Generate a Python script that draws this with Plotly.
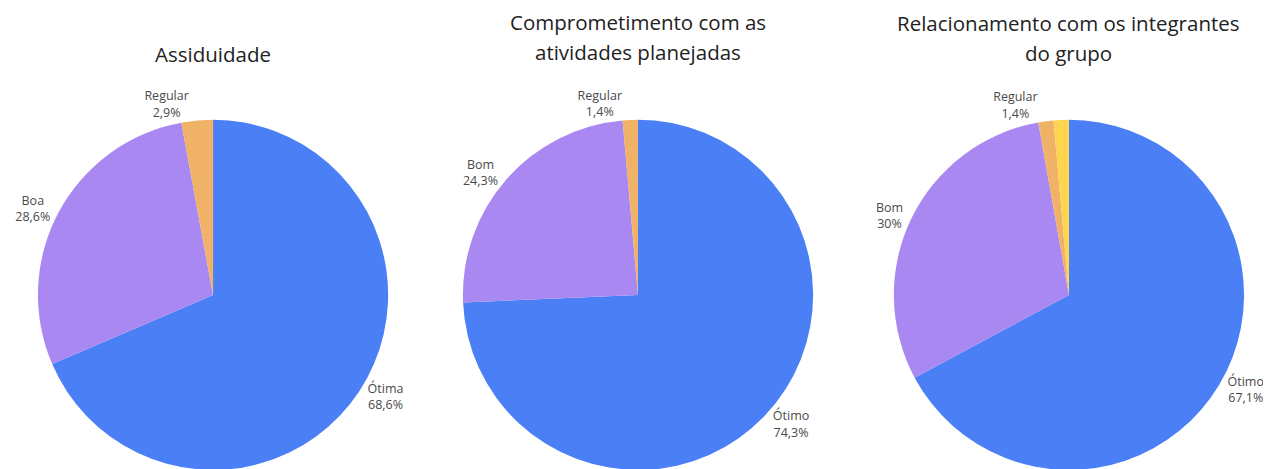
import plotly.graph_objects as go

title_lines = [["Assiduidade"],
               ["Comprometimento com as", "atividades planejadas"],
               ["Relacionamento com os integrantes", "do grupo"]]

labels1 = ["Ótima", "Boa", "Regular"]
values1 = [68.6, 28.6, 2.9]

labels2 = ["Ótimo", "Bom", "Regular"]
values2 = [74.3, 24.3, 1.4]

labels3 = ["Ótimo", "Bom", "Regular", "Ruim"]
values3 = [67.1, 30.0, 1.4, 1.4]
shown3 = [True, True, True, False]

colors = ["#4A7FF5", "#AA88F2", "#F0B266", "#FFD54F"]

# page body has an 8px margin; the pies run past the bottom edge of the view
OFF = 8
W, H = 1271 - OFF, 467
R = 177
centers_x = [211 - OFF, 638 - OFF, 1071 - OFF]


def fmt(v):
    s = f"{v:.1f}"
    if s.endswith(".0"):
        s = s[:-2]
    return s.replace(".", ",") + "%"


def texts(labels, values, shown=None):
    out = []
    for i, (l, v) in enumerate(zip(labels, values)):
        if shown is not None and not shown[i]:
            out.append("")
        else:
            out.append(f"{l}<br>{fmt(v)}")
    return out


fig = go.Figure()
datasets = [(labels1, values1, None), (labels2, values2, None), (labels3, values3, shown3)]
for i, (lab, val, sh) in enumerate(datasets):
    cx = centers_x[i]
    fig.add_trace(go.Pie(
        labels=lab, values=val,
        text=texts(lab, val, sh),
        textinfo="text",
        textposition="outside",
        sort=False, direction="clockwise", rotation=0,
        marker=dict(colors=colors[:len(lab)], line=dict(width=0)),
        textfont=dict(family="Open Sans", size=12.5, color="#4a4a4a"),
        domain=dict(x=[(cx - R) / W, (cx + R) / W], y=[0, 2 * R / H]),
        showlegend=False,
        hoverinfo="label+percent",
    ))

title_ys = [[54], [22, 52], [23, 53]]
for i, lines in enumerate(title_lines):
    for line, ty in zip(lines, title_ys[i]):
        fig.add_annotation(
            text=line, x=centers_x[i] / W, y=1 - (ty - OFF) / H,
            xref="paper", yref="paper", showarrow=False,
            xanchor="center", yanchor="middle",
            font=dict(family="Open Sans", size=20.5, color="#222222"),
        )

fig.update_layout(
    width=W, height=H,
    margin=dict(l=0, r=0, t=0, b=0),
    paper_bgcolor="white", plot_bgcolor="white",
    separators=",.",
)

fig.write_html("out.html")
